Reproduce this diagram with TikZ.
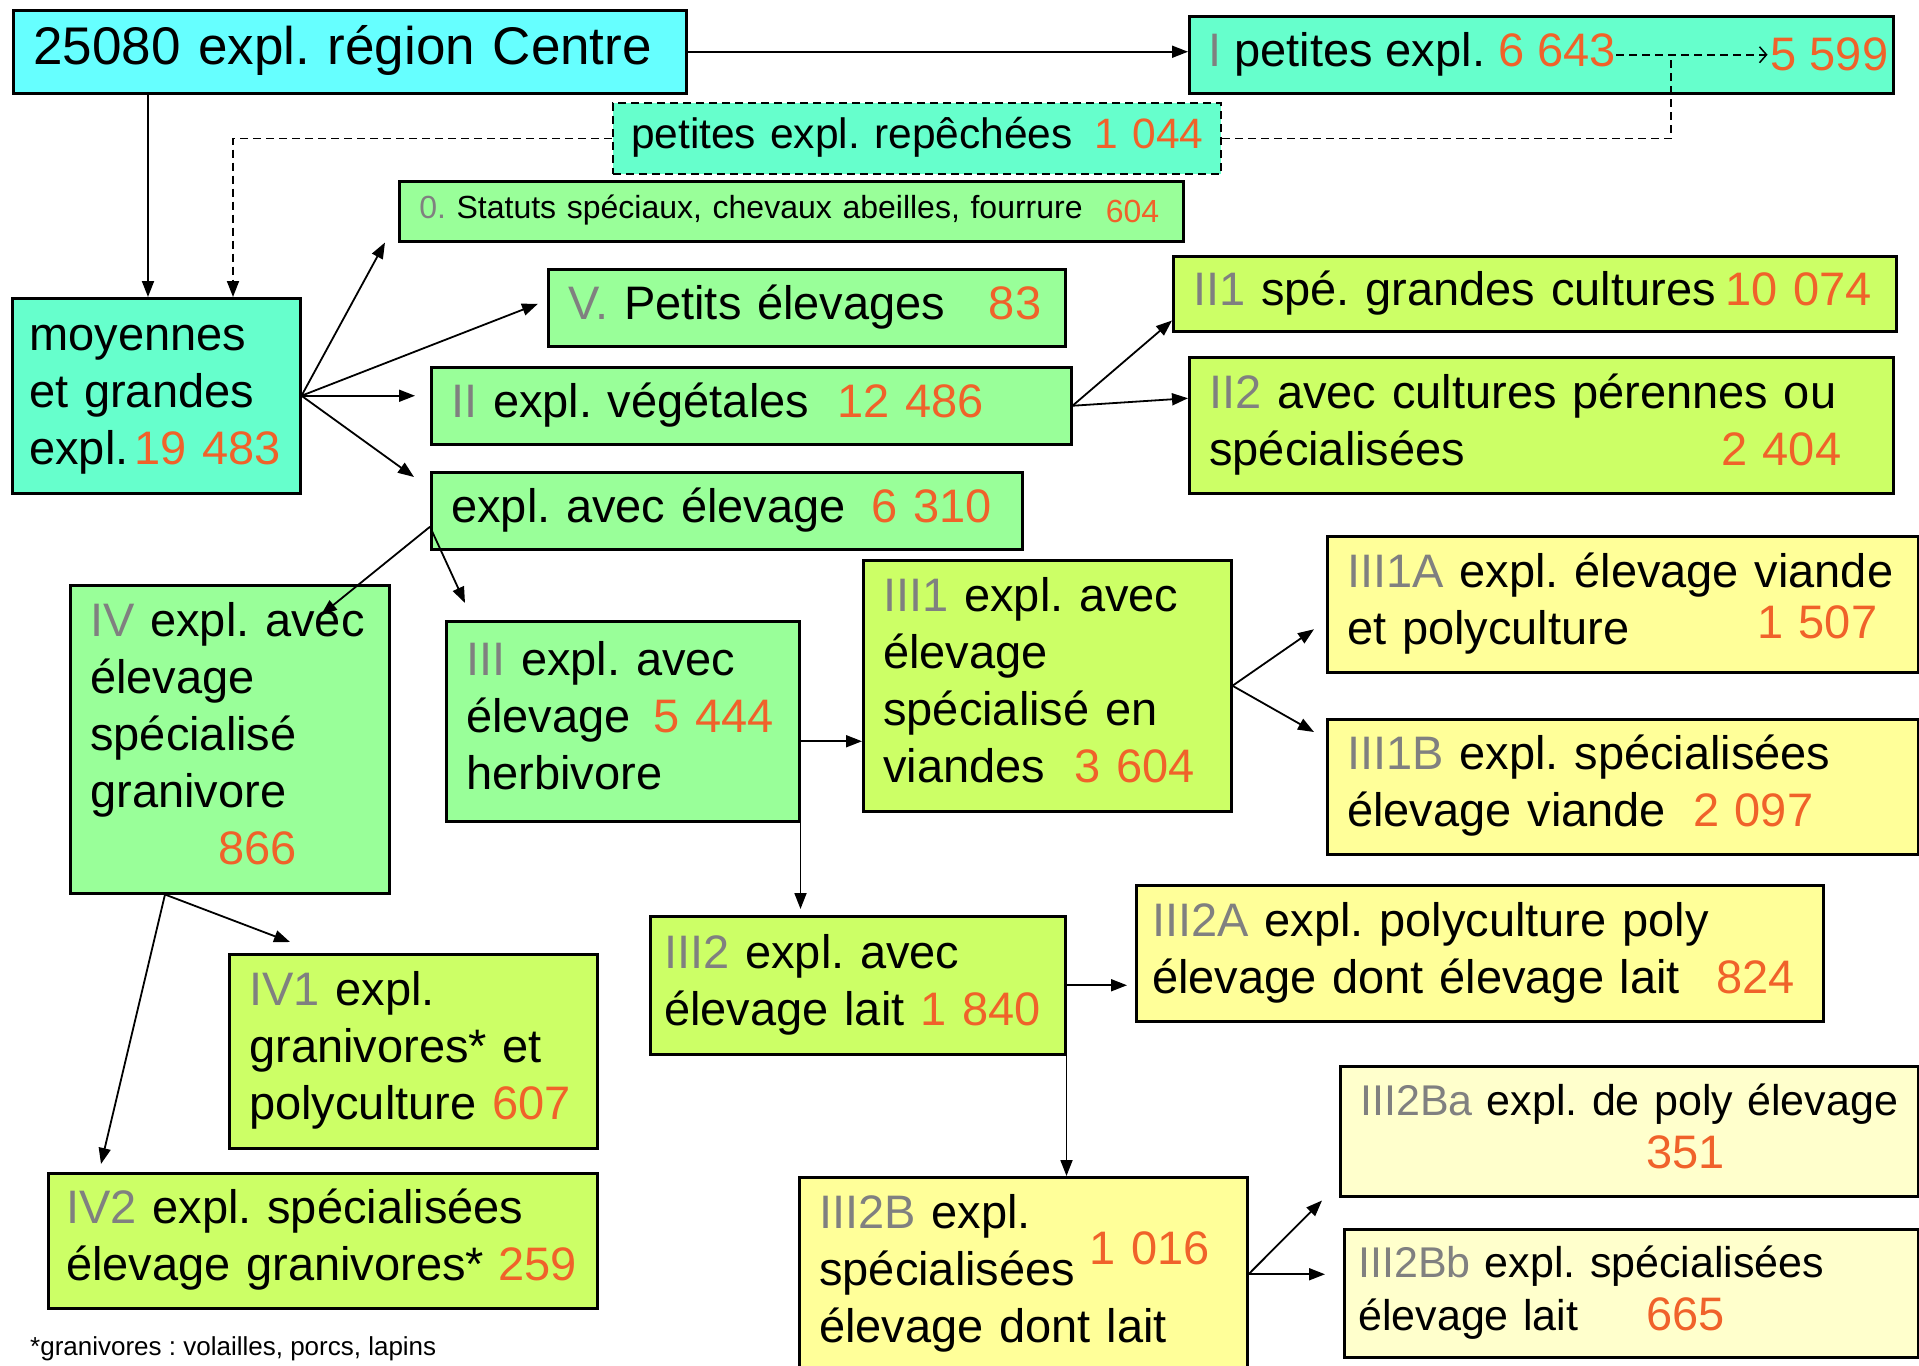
\documentclass[tikz,border=0pt]{standalone}
\usepackage{fontspec}
\setmainfont{Liberation Sans}
\usetikzlibrary{arrows.meta}
\frenchspacing
\hyphenpenalty=10000
\exhyphenpenalty=10000
\definecolor{cyanbox}{HTML}{66FFFF}
\definecolor{aquabox}{HTML}{66FFCC}
\definecolor{greenbox}{HTML}{99FF99}
\definecolor{limebox}{HTML}{CCFF66}
\definecolor{yellowbox}{HTML}{FFFF99}
\definecolor{paleyellow}{HTML}{FFFFCC}
\definecolor{numorange}{HTML}{F0622A}
\definecolor{rankgray}{HTML}{808080}
\newcommand{\rk}[1]{\textcolor{rankgray}{#1}}
\newcommand{\cnt}[1]{\textcolor{numorange}{#1}}
\tikzset{
  box/.style={
    rectangle, draw=black, line width=2.5pt,
    anchor=north west, align=left,
    inner xsep=20pt, inner ysep=2pt,
    font=\fontsize{47}{57}\selectfont,
    execute at begin node=\strut,
    execute at end node=\strut,
  },
  pale/.style={
    box, fill=paleyellow, inner xsep=14pt,
    font=\fontsize{43}{53}\selectfont,
  },
  txt/.style={
    inner sep=0pt, font=\fontsize{47}{57}\selectfont
  },
  arr/.style={
    -{Triangle[length=16pt,width=12pt]}, line width=1.8pt
  },
  dasharr/.style={
    line width=1.8pt, dash pattern=on 8pt off 5pt
  },
  openarr/.style={
    -{Straight Barb[length=7pt,width=16pt]}, line width=1.5pt,
    dash pattern=on 8pt off 5pt, shorten >=3pt
  },
}
\begin{document}
\begin{tikzpicture}[x=1pt, y=-1pt]
  \useasboundingbox (0,0) rectangle (1919,1365);
  \clip (0,0) rectangle (1919,1365);
  \fill[white] (0,0) rectangle (1919,1365);

  % top row
  \node[box, fill=cyanbox, text width=633pt, minimum height=83pt, font=\fontsize{53}{63}\selectfont] (region) at (12,9) {25080 expl. région Centre};
  \node[box, fill=aquabox, minimum width=704pt, minimum height=77pt] (petites) at (1188,15) {};
  \node[txt, anchor=west] (petites-txt) at ([xshift=20pt]petites.west) {\rk{I} petites expl. \cnt{6~643}};
  \node[txt, anchor=east] (petites-new) at ([xshift=-6pt]petites.east) {\cnt{5~599}};
  \node[box, fill=aquabox, line width=2pt, dash pattern=on 8pt off 5pt, inner xsep=14pt, text width=580pt, minimum height=71pt, font=\fontsize{42.5}{51}\selectfont] (repechees) at (612,102) {\hspace*{4pt}petites expl. repêchées\hspace{22pt}\cnt{1~044}};
  \node[box, fill=greenbox, text width=744pt, minimum height=60pt, font=\fontsize{32}{38}\selectfont] (statuts) at (398,180) {\rk{0.} Statuts spéciaux, chevaux abeilles, fourrure\hfill\raisebox{-4pt}{\cnt{604}}\hspace*{4pt}};

  \node[box, fill=aquabox, text width=254pt, inner xsep=17pt, minimum height=195pt] (moyennes) at (11,297) {moyennes\\et grandes\\expl.\hspace{6pt}\cnt{19~483}};
  \node[box, fill=greenbox, text width=477pt, minimum height=77pt] (petits-elev) at (547,268) {\rk{V.} Petits élevages\hfill\cnt{83}\hspace*{4pt}};
  \node[box, fill=greenbox, text width=600pt, minimum height=77pt] (vegetales) at (430,366) {\rk{II} expl. végétales\hspace{28pt}\cnt{12~486}};
  \node[box, fill=greenbox, text width=551pt, minimum height=77pt] (elevage) at (430,471) {expl. avec élevage\hspace{26pt}\cnt{6~310}};
  \node[box, fill=limebox, text width=683pt, minimum height=75pt] (veg-1) at (1172,255) {\rk{II1} spé. grandes cultures\hspace{10pt}\cnt{10~074}};
  \node[box, fill=limebox, text width=664pt, minimum height=136pt] (veg-2) at (1188,356) {\rk{II2} avec cultures pérennes ou\\spécialisées\hfill\cnt{2~404}\hspace*{32pt}};

  % elevage branches
  \node[box, fill=greenbox, text width=279pt, minimum height=308pt] (gran) at (69,584) {\rk{IV} expl. avec\\élevage\\spécialisé\\granivore\\\hspace*{128pt}\cnt{866}};
  \node[box, fill=greenbox, text width=313pt, minimum height=200pt] (herb) at (445,620) {\rk{III} expl. avec\\élevage\hspace{23pt}\cnt{5~444}\\herbivore};
  \node[box, fill=limebox, text width=328pt, minimum height=251pt] (herb-1) at (862,559) {\rk{III1} expl. avec\\élevage\\spécialisé en\\viandes\hspace{29pt}\cnt{3~604}};
  \node[box, fill=yellowbox, text width=551pt, minimum height=136pt] (herb-1a) at (1326,535) {\rk{III1A} expl. élevage viande\\et polyculture\hfill\smash{\raisebox{6pt}{\cnt{1~507}}}\hspace*{21pt}};
  \node[box, fill=yellowbox, text width=551pt, minimum height=135pt] (herb-1b) at (1326,718) {\rk{III1B} expl. spécialisées\\élevage viande\hspace{27pt}\cnt{2~097}};
  \node[box, fill=limebox, text width=328pt, minimum height=194pt] (gran-1) at (228,953) {\rk{IV1} expl.\\granivores* et\\polyculture \cnt{607}};
  \node[box, fill=limebox, inner xsep=14pt, text width=387pt, minimum height=138pt] (herb-2) at (649,915) {\rk{III2} expl. avec\\élevage lait \cnt{1~840}};
  \node[box, fill=yellowbox, inner xsep=16pt, text width=655pt, minimum height=136pt] (herb-2a) at (1135,884) {\rk{III2A} expl. polyculture poly\\élevage dont élevage lait\hspace{36pt}\cnt{824}};
  \node[pale, text width=550pt, minimum height=130pt] (herb-2ba) at (1339,1065) {\hspace*{6pt}\rk{III2Ba} expl. de poly élevage\\\hspace*{292pt}{\fontsize{47}{53}\selectfont\cnt{351}}};
  \node[box, fill=limebox, inner xsep=18pt, text width=513pt, minimum height=135pt] (gran-2) at (47,1172) {\rk{IV2} expl. spécialisées\\élevage granivores*\hspace{14pt}\cnt{259}};
  \node[box, fill=yellowbox, text width=408pt, minimum height=194pt] (herb-2b) at (798,1176) {\rk{III2B} expl.\\spécialisées\hspace{14pt}\smash{\raisebox{21pt}{\cnt{1~016}}}\\élevage dont lait};
  \node[pale, text width=546pt, minimum height=128pt] (herb-2bb) at (1343,1228) {\rk{III2Bb} expl. spécialisées\\élevage lait\hspace{68pt}{\fontsize{47}{53}\selectfont\cnt{665}}};

  \node[anchor=west, inner sep=0pt, font=\fontsize{26}{31}\selectfont] (note) at (30,1349) {*granivores : volailles, porcs, lapins};

  % connectors
  \coordinate (turn) at (1671,0 |- petites-txt.east);
  \coordinate (region-out) at ([xshift=136pt]region.south west);
  \coordinate (rep-in) at ([xshift=222pt]moyennes.north west);
  \draw[arr] (region.east) -- (region.east -| petites.west);
  \draw[arr] (region-out) -- (region-out |- moyennes.north);
  \draw[openarr] (petites-txt.east) -- (petites-new.west);
  \draw[dasharr] (repechees.east) -| (turn);
  \draw[arr, dasharr] (repechees.west) -| (rep-in);

  \draw[arr] (moyennes.east) -- ([xshift=-13pt]statuts.south west);
  \draw[arr] (moyennes.east) -- ([xshift=-9pt,yshift=4pt]petits-elev.west);
  \draw[arr, shorten >=15pt] (moyennes.east) -- (moyennes.east -| vegetales.west);
  \draw[arr] (moyennes.east) -- ([xshift=-16pt,yshift=-6pt]elevage.north west);

  \draw[arr] (vegetales.east) -- ([yshift=12pt]veg-1.south west);
  \draw[arr] (vegetales.east) -- ([yshift=27pt]veg-2.west);

  \coordinate (elev-out) at ([yshift=-16pt]elevage.west);
  \coordinate (gran-in) at ([xshift=252pt,yshift=-31pt]gran.north west);
  \coordinate (herb-in) at ([xshift=20pt,yshift=17pt]herb.north west);
  \draw[arr] (elev-out) -- (gran-in);
  \draw[arr] (elev-out) -- (herb-in);

  \coordinate (herb-out) at ([yshift=-20pt]herb.east);
  \draw[arr] (herb-out) -- (herb-out -| herb-1.west);
  \draw[arr, shorten >=6pt] (herb.south east) -- (herb.south east |- herb-2.north);

  \draw[arr] (herb-1.east) -- ([xshift=-12pt,yshift=-25pt]herb-1a.west);
  \draw[arr] (herb-1.east) -- ([xshift=-12pt,yshift=-14pt]herb-1b.north west);

  \coordinate (gran-out) at ([xshift=96pt]gran.south west);
  \draw[arr] (gran-out) -- ([xshift=62pt,yshift=11pt]gran-1.north west);
  \draw[arr] (gran-out) -- ([xshift=54pt,yshift=8pt]gran-2.north west);

  \draw[arr, shorten >=8pt] (herb-2.east) -- (herb-2.east -| herb-2a.west);
  \draw[arr] (herb-2.south east) -- (herb-2.south east |- herb-2b.north);

  \draw[arr] (herb-2b.east) -- ([xshift=-17pt,yshift=-3pt]herb-2ba.south west);
  \draw[arr, shorten >=18pt] (herb-2b.east) -- (herb-2b.east -| herb-2bb.west);
\end{tikzpicture}
\end{document}
